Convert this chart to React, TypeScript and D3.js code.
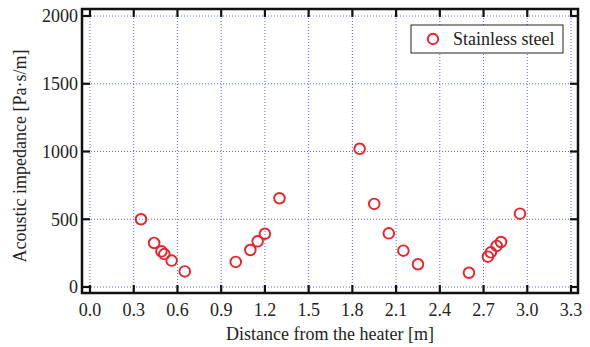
import React from "react";
import * as d3 from "d3";

const xValues = [0.35, 0.44, 0.49, 0.51, 0.56, 0.65, 1.0, 1.1, 1.15, 1.2, 1.3, 1.85, 1.95, 2.05, 2.15, 2.25, 2.6, 2.73, 2.75, 2.79, 2.82, 2.95];
const yValues = [500, 325, 263, 243, 195, 115, 185, 273, 337, 393, 655, 1020, 613, 396, 268, 168, 105, 224, 256, 303, 332, 541];
const xTicks = [0.0, 0.3, 0.6, 0.9, 1.2, 1.5, 1.8, 2.1, 2.4, 2.7, 3.0, 3.3];
const yTicks = [0, 500, 1000, 1500, 2000];
const seriesName = "Stainless steel";
const xTitle = "Distance from the heater [m]";
const yTitle = "Acoustic impedance [Pa·s/m]";

const W = 590;
const H = 347;
const frame = { left: 82, right: 578, top: 9, bottom: 293 };
const font = "Liberation Serif";
const red = "#e8232b";
const grid = "#5a6ccc";
const ts = { fontFamily: font };

export default function App() {
  const x = d3.scaleLinear().domain([0, 3.3]).range([90, 571]);
  const y = d3.scaleLinear().domain([0, 2000]).range([287, 16]);
  const tl = 8;
  const pts = xValues.map((v, i) => ({ x: v, y: yValues[i] }));
  return (
    <svg width={W} height={H} style={{ position: "absolute", left: 0, top: 0, background: "#fff", fontFamily: font }}>
      <rect x={0} y={0} width={W} height={H} fill="#fff" />
      {xTicks.map((t) => (
        <line key={"gx" + t} x1={x(t)} x2={x(t)} y1={frame.top} y2={frame.bottom} stroke={grid} strokeWidth={1} strokeDasharray="1,2" />
      ))}
      {yTicks.map((t) => (
        <line key={"gy" + t} x1={frame.left} x2={frame.right} y1={y(t)} y2={y(t)} stroke={grid} strokeWidth={1} strokeDasharray="1,2" />
      ))}
      {xTicks.map((t) => (
        <g key={"tx" + t}>
          <line x1={x(t)} x2={x(t)} y1={frame.bottom} y2={frame.bottom - tl} stroke="#111" strokeWidth={2.2} />
          <line x1={x(t)} x2={x(t)} y1={frame.top} y2={frame.top + tl} stroke="#111" strokeWidth={2.2} />
          <text x={x(t)} y={316} textAnchor="middle" fontSize={18} fill="#222" style={ts}>{d3.format(".1f")(t)}</text>
        </g>
      ))}
      {yTicks.map((t) => (
        <g key={"ty" + t}>
          <line x1={frame.left} x2={frame.left + tl} y1={y(t)} y2={y(t)} stroke="#111" strokeWidth={2.2} />
          <line x1={frame.right} x2={frame.right - tl} y1={y(t)} y2={y(t)} stroke="#111" strokeWidth={2.2} />
          <text x={78} y={y(t)} dy="0.35em" textAnchor="end" fontSize={18} fill="#222" style={ts}>{t}</text>
        </g>
      ))}
      <rect x={frame.left} y={frame.top} width={frame.right - frame.left} height={frame.bottom - frame.top} fill="none" stroke="#111" strokeWidth={2.5} />
      {pts.map((p, i) => (
        <circle key={i} cx={x(p.x)} cy={y(p.y)} r={5.3} fill="none" stroke={red} strokeWidth={1.9} />
      ))}
      <rect x={411} y={25} width={152} height={28} fill="#fff" stroke="#222" strokeWidth={1} />
      <circle cx={433} cy={39} r={5.2} fill="none" stroke={red} strokeWidth={1.9} />
      <text x={453} y={39} dy="0.35em" fontSize={18} fill="#222" style={ts}>{seriesName}</text>
      <text x={330} y={340} textAnchor="middle" fontSize={18} fill="#222" style={ts}>{xTitle}</text>
      <text transform={`translate(26,156) rotate(-90)`} textAnchor="middle" fontSize={18} fill="#222" style={ts}>{yTitle}</text>
    </svg>
  );
}
